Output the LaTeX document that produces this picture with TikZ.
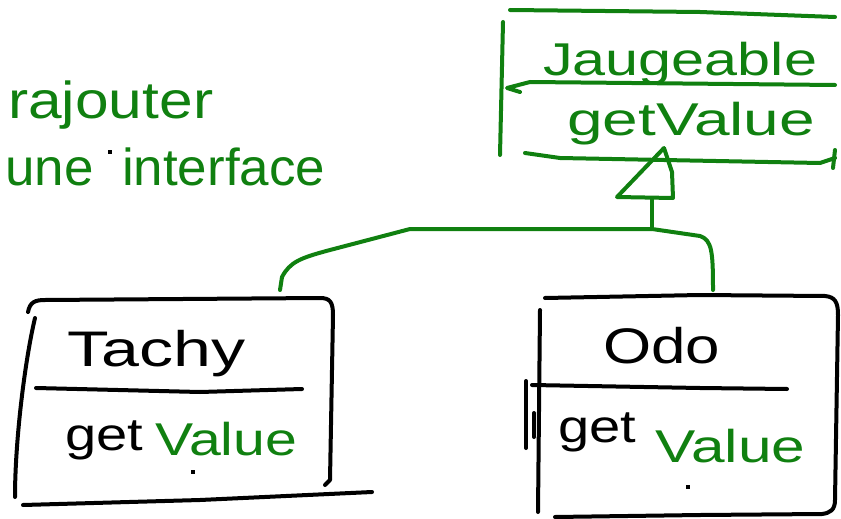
\documentclass[tikz,border=0pt]{standalone}
\usepackage{fontspec}
\setmainfont{Liberation Sans}
\usepackage{graphicx}
\definecolor{pen}{RGB}{16,128,16}
\newcommand\fitto[2]{\resizebox{#1pt}{\height}{#2}}
\begin{document}
\begin{tikzpicture}[x=1pt,y=-1pt,
  ink/.style={line width=4pt,line cap=round,line join=round},
  greenink/.style={ink,draw=pen},
  blackink/.style={ink,draw=black},
  lbl/.style={inner sep=0pt,anchor=base west},
  big/.style={font=\fontsize{50}{50}\selectfont},
  mid/.style={font=\fontsize{46}{46}\selectfont}]
\useasboundingbox (0,0) rectangle (841,519);
% note
\node[lbl,font=\fontsize{52}{52}\selectfont,text=pen] (raj) at (8,118) {\fitto{205}{rajouter}};
\node[lbl,font=\fontsize{52}{52}\selectfont,text=pen] (une) at (5,185) {\fitto{320}{une\hspace{28pt}interface}};
\fill (108,150) rectangle ++(4,4);
% interface box
\node[lbl,mid,text=pen] (jtitle) at (543,76) {\fitto{274}{Jaugeable}};
\node[lbl,mid,text=pen] (jop) at (567,135) {\fitto{248}{getValue}};
\draw[greenink] (510,10) -- (700,12) -- (835,17);
\draw[greenink] (503,22) -- (500,155);
\draw[greenink] (520,92) -- (507,88) -- (530,82) -- (835,85);
\draw[greenink] (525,153) -- (560,158) -- (820,163) -- (835,158);
\draw[greenink] (835,150) -- (833,168);
% inheritance triangle
\coordinate (apex) at (664,148);
\coordinate (tl) at (617,197);
\coordinate (tr) at (673,198);
\coordinate (stemtop) at (652,198);
\coordinate (junction) at (652,229);
\draw[greenink] (apex) -- (tl) -- (tr) -- (672,172) -- cycle;
\draw[greenink] (stemtop) -- (junction);
% connectors
\coordinate (tachyIn) at (280,290);
\coordinate (odoIn) at (713,290);
\draw[greenink] (tachyIn) -- (282,277) .. controls (290,262) and (300,258) .. (330,250) -- (410,229) -- (junction) -- (700,236) .. controls (712,240) and (713,252) .. (odoIn);
% Tachy box
\node[lbl,big] (tachy) at (67,366) {\fitto{178}{Tachy}};
\draw[blackink] (28,312) .. controls (30,302) and (35,300) .. (45,300) -- (320,298) .. controls (330,298) and (333,302) .. (333,315) -- (330,480) -- (325,485);
\draw[blackink] (35,318) .. controls (25,360) and (15,440) .. (15,497);
\draw[blackink] (23,505) -- (200,500) -- (372,492);
\draw[blackink] (36,388) -- (200,392) -- (302,389);
\node[lbl,mid] (tget) at (65,450) {\fitto{78}{get}};
\node[lbl,mid,text=pen] (tval) at (155,455) {\fitto{142}{Value}};
\fill (191,470) rectangle ++(4,4);
% Odo box
\node[lbl,big] (odo) at (603,363) {\fitto{117}{Odo}};
\draw[blackink] (545,298) -- (700,295) -- (825,296) .. controls (835,297) and (838,302) .. (838,315) -- (835,500) .. controls (835,510) and (830,513) .. (822,514) -- (700,515) -- (555,517);
\draw[blackink] (540,310) -- (538,512);
\draw[blackink] (526,381) -- (526,448);
\draw[blackink] (534,413) -- (534,437);
\draw[blackink] (532,385) -- (700,388) -- (787,389);
\node[lbl,mid] (oget) at (558,442) {\fitto{78}{get}};
\node[lbl,mid,text=pen] (oval) at (655,462) {\fitto{150}{Value}};
\fill (686,485) rectangle ++(4,4);
\end{tikzpicture}
\end{document}
